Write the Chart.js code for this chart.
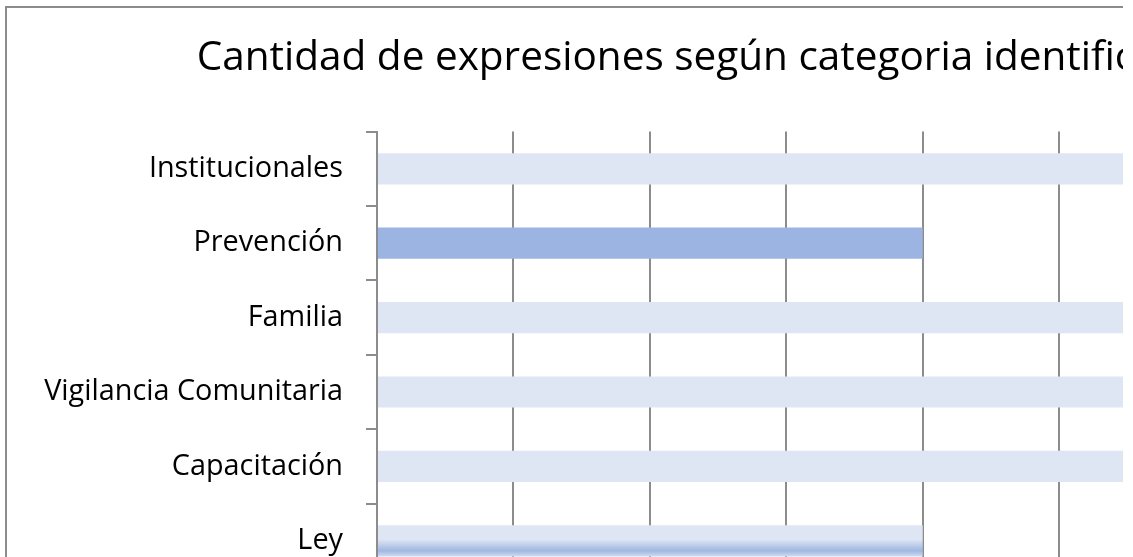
<!DOCTYPE html>
<html>
<head>
<meta charset="utf-8">
<script src="https://cdn.jsdelivr.net/npm/chart.js@4.4.0/dist/chart.umd.min.js"></script>
<style>
  html, body { margin: 0; padding: 0; background: #fff; overflow: hidden; width: 1133px; height: 557px; }
  #recorte { position: absolute; left: 0; top: 0; width: 1123px; height: 557px; overflow: hidden; }
  #caja { position: absolute; left: 5px; top: 6px; border: 2px solid #8c8c8c; background: #fff; }
</style>
</head>
<body>
<div id="recorte"><div id="caja"><canvas id="myChart"></canvas></div></div>
<script>
// Datos del grafico
const titulo = 'Cantidad de expresiones según categoria identificadas';
const categorias = ['Institucionales', 'Prevención', 'Familia', 'Vigilancia Comunitaria', 'Capacitación', 'Ley'];
const cantidades = [7, 4, 6, 6, 7, 4];
const ejeMin = 0;
const ejeMax = 7;
const ejePaso = 1;

// colores por barra (Ley lleva degradado)
const claro = '#dfe6f3';
const medio = '#9bb4e1';

const fuente = '"Open Sans", "DejaVu Sans", sans-serif';
const tamTitulo = 40.5;
const tamEtiqueta = 28.8;

// ancho del lienzo para que el titulo quede centrado como en el original
const med = document.createElement('canvas').getContext('2d');
med.font = tamTitulo + 'px ' + fuente;
const anchoTitulo = med.measureText(titulo).width;
const inicioTitulo = 190;
const W = Math.round(2 * inicioTitulo + anchoTitulo);
const H = 620;
const areaIzq = 370;
const areaDer = 1325;

const canvas = document.getElementById('myChart');
canvas.width = W;
canvas.height = H;
canvas.style.width = W + 'px';
canvas.style.height = H + 'px';

const colorBarra = (c) => {
  const i = c.dataIndex;
  if (i === 1) return medio;
  if (i !== 5) return claro;
  const chart = c.chart;
  if (!chart.scales || !chart.scales.y) return '#c9d6ee';
  const yc = chart.scales.y.getPixelForValue(i);
  const h = 31;
  const g = chart.ctx.createLinearGradient(0, yc - h / 2, 0, yc + h / 2);
  g.addColorStop(0, claro);
  g.addColorStop(0.45, claro);
  g.addColorStop(0.82, '#9fb7e2');
  g.addColorStop(1, '#cfdaef');
  return g;
};

const ctx = canvas.getContext('2d');
const myChart = new Chart(ctx, {
  type: 'bar',
  data: {
    labels: categorias,
    datasets: [{
      data: cantidades,
      backgroundColor: colorBarra,
      borderWidth: 0,
      categoryPercentage: 1,
      barPercentage: 0.42,
      xAxisID: 'x',
      yAxisID: 'y'
    }]
  },
  options: {
    indexAxis: 'y',
    responsive: false,
    animation: false,
    devicePixelRatio: 1,
    layout: { padding: 0 },
    plugins: {
      legend: { display: false },
      tooltip: { enabled: false },
      title: {
        display: true,
        text: titulo,
        color: '#000',
        font: { family: fuente, size: tamTitulo, weight: 'normal', lineHeight: 1.2 },
        padding: { top: 26, bottom: 49 }
      }
    },
    scales: {
      y: {
        position: 'left',
        grid: { drawOnChartArea: false, drawTicks: true, tickLength: 11, color: '#8c8c8c', lineWidth: 2 },
        border: { display: true, color: '#8c8c8c', width: 2 },
        ticks: { color: '#000', padding: 23, font: { family: fuente, size: tamEtiqueta } },
        afterFit: (s) => { s.width = areaIzq; }
      },
      relleno: {
        type: 'linear',
        axis: 'y',
        position: 'right',
        display: true,
        grid: { display: false },
        border: { display: false },
        ticks: { display: false },
        afterFit: (s) => { s.width = W - areaDer; }
      },
      x: {
        min: ejeMin,
        max: ejeMax,
        ticks: { stepSize: ejePaso, color: '#000', font: { family: fuente, size: tamEtiqueta } },
        grid: { color: '#8c8c8c', lineWidth: 2, tickLength: 11 },
        border: { display: true, color: '#8c8c8c', width: 2 },
        afterFit: (s) => { s.height = 50; }
      }
    }
  }
});
</script>
</body>
</html>
